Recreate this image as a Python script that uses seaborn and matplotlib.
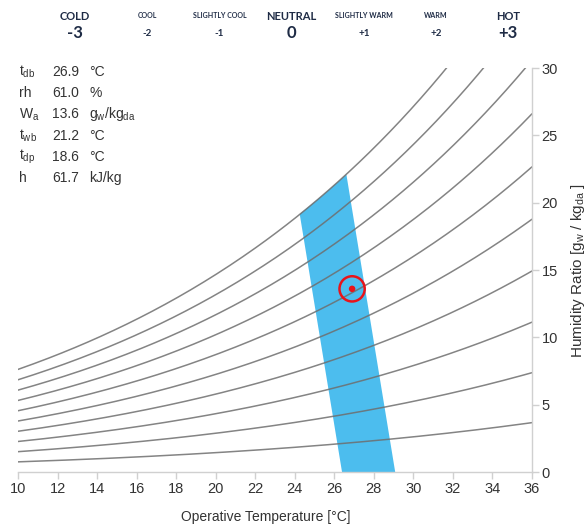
import numpy as np
import pandas as pd
import matplotlib
matplotlib.use("Agg")
import matplotlib.pyplot as plt
import seaborn as sns

# Relative humidity levels of the psychrometric curves (%)
rh_levels = [10, 20, 30, 40, 50, 60, 70, 80, 90, 100]

# Comfort zone outline (operative temperature °C, humidity ratio g/kg)
zone_t = [26.39, 29.08, 26.61, 25.45, 24.25]
zone_w = [0.0, 0.0, 22.1, 20.6, 19.15]

# Current condition
point_t = [26.9]
point_w = [13.6]

# Thermal sensation scale
sens_names = ["COLD", "COOL", "SLIGHTLY COOL", "NEUTRAL", "SLIGHTLY WARM", "WARM", "HOT"]
sens_values = ["-3", "-2", "-1", "0", "+1", "+2", "+3"]

# Psychrometric readout
info_labels = [r"t$_\mathregular{db}$", "rh", r"W$_\mathregular{a}$",
               r"t$_\mathregular{wb}$", r"t$_\mathregular{dp}$", "h"]
info_values = ["26.9", "61.0", "13.6", "21.2", "18.6", "61.7"]
info_units = ["°C", "%", r"g$_\mathregular{w}$/kg$_\mathregular{da}$", "°C", "°C", "kJ/kg"]

x_ticks = list(range(10, 37, 2))
y_ticks = list(range(0, 31, 5))

sns.set_theme(style="white")
plt.rcParams["font.family"] = ["Liberation Sans", "DejaVu Sans"]
plt.rcParams["mathtext.fontset"] = "custom"
plt.rcParams["mathtext.rm"] = "Liberation Sans"

fig = plt.figure(figsize=(5.88, 5.24), dpi=100)
ax = fig.add_axes([18 / 588, 1 - 472 / 524, (532 - 18) / 588, (472 - 68) / 524])

# Saturation pressure (kPa) and humidity ratio (g/kg) at sea level
P_ATM = 101.325
temps = np.linspace(10, 36, 200)
rows = []
for rh in rh_levels:
    psat = 0.61094 * np.exp(17.625 * temps / (temps + 243.04))
    pw = rh / 100.0 * psat
    w = 622.0 * pw / (P_ATM - pw)
    rows.append(pd.DataFrame({"T": temps, "W": w, "rh": rh}))
curves = pd.concat(rows, ignore_index=True)

ax.fill(zone_t, zone_w, color="#4cbdee", lw=0, zorder=1)

sns.lineplot(data=curves, x="T", y="W", units="rh", estimator=None,
             color="#6e6e6e", lw=1.1, alpha=0.85, ax=ax, zorder=2, legend=False)

sns.scatterplot(x=point_t, y=point_w, s=22, color="#e8141b", edgecolor="none",
                ax=ax, zorder=4, legend=False)
ax.scatter(point_t, point_w, s=330, facecolors="none", edgecolors="#e8141b",
           linewidths=1.8, zorder=4)

ax.set_xlim(10, 36)
ax.set_ylim(0, 30)
ax.set_xticks(x_ticks)
ax.set_yticks(y_ticks)
ax.yaxis.tick_right()
ax.yaxis.set_label_position("right")

for side in ["top", "left"]:
    ax.spines[side].set_visible(False)
for side in ["right", "bottom"]:
    ax.spines[side].set_color("#d0d0d0")
    ax.spines[side].set_linewidth(1.0)

ax.tick_params(axis="both", which="major", length=5, width=1.0, color="#d0d0d0",
               labelsize=10.5, labelcolor="#333333", pad=2)
ax.tick_params(axis="x", bottom=True, direction="out")
ax.tick_params(axis="y", right=True, left=False, direction="out")

ax.set_xlabel("Operative Temperature [°C]", fontsize=10, color="#333333")
ax.xaxis.set_label_coords(0.482, -0.093)
ax.set_ylabel(r"Humidity Ratio [g$_\mathregular{w}$ / kg$_\mathregular{da}$ ]",
              fontsize=11, color="#333333")
ax.yaxis.set_label_coords(1.072, 0.5)

# Thermal sensation header
big = {"COLD", "NEUTRAL", "HOT"}
for i, (name, val) in enumerate(zip(sens_names, sens_values)):
    xc = (75 + i * 72.2) / 588
    if name in big:
        fig.text(xc, 1 - 16 / 524, name, ha="center", va="center", fontsize=8,
                 fontweight="bold", family="Lato", color="#1e2b45")
        fig.text(xc, 1 - 33 / 524, val, ha="center", va="center", fontsize=12,
                 fontweight="bold", family="Lato", color="#1e2b45")
    else:
        fig.text(xc, 1 - 16 / 524, name, ha="center", va="center", fontsize=5,
                 fontweight="bold", family="Lato", color="#1e2b45")
        fig.text(xc, 1 - 34 / 524, val, ha="center", va="center", fontsize=7,
                 fontweight="bold", family="Lato", color="#1e2b45")

# Psychrometric readout block
for i, (lab, val, unit) in enumerate(zip(info_labels, info_values, info_units)):
    yy = 1 - (72 + i * 21.2) / 524
    fig.text(19 / 588, yy, lab, ha="left", va="center", fontsize=10, color="#333333")
    fig.text(52 / 588, yy, val, ha="left", va="center", fontsize=10, color="#333333")
    fig.text(89 / 588, yy, unit, ha="left", va="center", fontsize=10, color="#333333")

fig.savefig("out.png", dpi=100, facecolor="white")
